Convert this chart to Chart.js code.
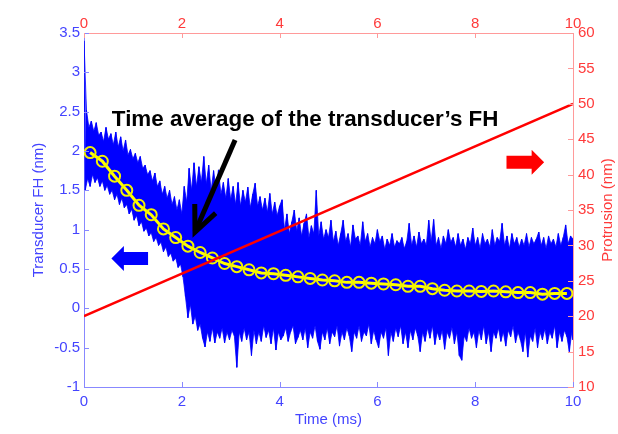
<!DOCTYPE html>
<html><head><meta charset="utf-8">
<script src="https://cdn.jsdelivr.net/npm/chart.js@4.4.1/dist/chart.umd.min.js"></script>
<style>html,body{margin:0;padding:0;background:#fff}</style>
</head><body>
<canvas id="c" width="618" height="434"></canvas>
<script>
// ---------- data ----------
// blue transducer FH signal: peak (upper) and trough (lower) values every 0.05 ms, 0..10 ms
const sampleStep = 0.05;
const fhUpper = [
 3.4, 2.52, 2.3, 2.38, 2.25, 2.36, 2.2, 2.24, 2.12, 2.3,
 2.15, 2.22, 2.08, 2.24, 2.05, 2.18, 2.0, 2.14, 1.95, 2.02,
 1.9, 1.97, 1.85, 1.93, 1.78, 1.82, 1.7, 1.75, 1.62, 1.72,
 1.55, 1.62, 1.45, 1.55, 1.4, 1.5, 1.32, 1.42, 1.25, 1.38,
 1.2,
 1.55, 1.35, 1.78, 1.5, 1.85, 1.55, 1.8, 1.6, 1.93,
 1.58, 1.82, 1.5, 1.75, 1.52, 1.76, 1.45, 1.6, 1.4, 1.65,
 1.38, 1.55, 1.32, 1.6, 1.3, 1.5, 1.35, 1.54, 1.28, 1.45,
 1.59, 1.3, 1.42, 1.25, 1.4, 1.22, 1.46, 1.2, 1.35, 1.18,
 1.3,
 1.38, 1.0, 1.2, 0.95, 1.1, 1.25, 0.98, 1.15, 0.92,
 1.08, 1.2, 0.9, 1.05, 0.95, 1.5, 0.92, 1.1, 0.88, 1.0,
 0.9, 1.12, 0.85, 0.98, 0.8, 0.95, 1.12, 0.85, 0.95, 0.78,
 1.06, 0.88, 0.92, 0.8, 1.1, 0.85, 0.95, 0.78, 0.9, 0.82,
 1.0, 0.85, 0.92, 0.75, 0.88, 0.8, 0.95, 0.78, 0.86, 0.82,
 0.9, 0.76, 0.85, 1.08, 0.8, 0.92, 0.78, 0.97, 0.82, 0.88,
 0.8, 1.12, 0.85, 1.13, 0.8, 0.9, 0.76, 0.92, 0.82, 1.0,
 0.84, 0.9, 0.78, 0.95, 0.8, 0.88, 0.75, 0.9, 0.82, 1.02,
 0.8, 0.9, 0.76, 0.95, 0.82, 0.88, 0.78, 1.0, 0.8, 0.9,
 0.85, 1.08, 0.8, 0.92, 0.76, 0.95, 0.82, 0.9, 0.78, 0.88,
 0.8, 0.95, 0.78, 0.9, 0.82, 0.88, 0.97, 0.8, 0.9, 0.76,
 0.92, 0.82, 0.88, 0.78, 0.95, 0.8, 0.9, 1.06, 0.82, 0.92,
 0.88
];
const fhLower = [
 1.5, 1.65, 1.55, 1.7, 1.6, 1.66, 1.55, 1.62, 1.5, 1.56,
 1.45, 1.5, 1.38, 1.45, 1.32, 1.4, 1.28, 1.32, 1.2, 1.26,
 1.12, 1.18, 1.05, 1.1, 0.98, 1.02, 0.92, 0.96, 0.85, 0.9,
 0.8, 0.84, 0.72, 0.78, 0.66, 0.7, 0.6, 0.64, 0.52, 0.56,
 0.4,
 0.15, -0.12, 0.05, -0.2, -0.1, -0.28, -0.2, -0.38, -0.49,
 -0.3, -0.42, -0.25, -0.44, -0.3, -0.38, -0.25, -0.44, -0.3, -0.4,
 -0.28, -0.35, -0.75, -0.3, -0.42, -0.25, -0.4, -0.3, -0.6, -0.28,
 -0.45, -0.3, -0.42, -0.22, -0.37, -0.28, -0.45, -0.25, -0.53, -0.3,
 -0.4,
 -0.35, -0.25, -0.42, -0.3, -0.22, -0.45, -0.37, -0.28, -0.4,
 -0.25, -0.5, -0.3, -0.38, -0.22, -0.42, -0.52, -0.3, -0.4, -0.25,
 -0.45, -0.3, -0.36, -0.22, -0.48, -0.3, -0.4, -0.25, -0.35, -0.55,
 -0.3, -0.38, -0.22, -0.42, -0.3, -0.35, -0.2, -0.45, -0.28, -0.4,
 -0.5, -0.3, -0.38, -0.25, -0.6, -0.3, -0.42, -0.25, -0.36, -0.22,
 -0.45, -0.3, -0.5, -0.28, -0.4, -0.25, -0.35, -0.55, -0.3, -0.42,
 -0.25, -0.38, -0.22, -0.46, -0.3, -0.4, -0.28, -0.52, -0.3, -0.38,
 -0.24, -0.45, -0.3, -0.6, -0.66, -0.35, -0.42, -0.25, -0.38, -0.3,
 -0.5, -0.28, -0.4, -0.22, -0.45, -0.3, -0.55, -0.3, -0.38, -0.25,
 -0.42, -0.3, -0.48, -0.28, -0.36, -0.22, -0.44, -0.3, -0.4, -0.55,
 -0.3, -0.62, -0.35, -0.42, -0.25, -0.5, -0.3, -0.4, -0.26, -0.45,
 -0.3, -0.38, -0.22, -0.5, -0.3, -0.42, -0.28, -0.36, -0.55, -0.3,
 -0.4
];
// yellow time average, one circle every 0.25 ms starting at 0.125 ms
const avgStart = 0.125, avgStep = 0.25;
const fhAverage = [
 1.98, 1.87, 1.68, 1.50, 1.31, 1.19, 1.01, 0.90, 0.79, 0.71,
 0.64, 0.57, 0.53, 0.49, 0.45, 0.44, 0.42, 0.40, 0.38, 0.36,
 0.35, 0.33, 0.33, 0.32, 0.31, 0.30, 0.28, 0.28, 0.25, 0.23,
 0.22, 0.22, 0.215, 0.22, 0.21, 0.20, 0.20, 0.18, 0.19, 0.19
];
// red protrusion (right axis)
const protrusionTime = [0, 10];
const protrusion = [20, 50];
// axis ranges / ticks
const timeRange = [0, 10], timeTickStep = 2;
const fhRange = [-1, 3.5], fhTickStep = 0.5;
const protRange = [10, 60], protTickStep = 5;
const xTitle = 'Time (ms)', yTitle = 'Transducer FH (nm)', y2Title = 'Protrusion (nm)';
const noteText = 'Time average of the transducer\u2019s FH';

// ---------- build tables ----------
const upperPts = [], lowerPts = [], signal = [];
fhUpper.forEach((u, i) => {
  const t = +(i * sampleStep).toFixed(3);
  const tl = Math.min(10, t + sampleStep / 2);
  upperPts.push({x: t, y: u});
  lowerPts.push({x: tl, y: fhLower[i]});
  signal.push({x: t, y: u});
  signal.push({x: tl, y: fhLower[i]});
});
const avgData = fhAverage.map((v, k) => ({x: avgStart + k * avgStep, y: v}));
const protData = protrusion.map((v, k) => ({x: protrusionTime[k], y: v}));

const FONT = 'Liberation Sans, Arial, sans-serif';
const blueText = '#4444ff', blueAxis = '#8888ff';
const redText = '#ff3a3a', redAxis = '#ff9a9a';
const fmt = v => String(Math.round(v * 100) / 100);

const deco = {
  id: 'deco',
  afterDraw(chart) {
    const {ctx, chartArea: a, scales: {x, x2, y, y2}} = chart;
    ctx.save();
    ctx.lineWidth = 1;
    // inward ticks
    ctx.strokeStyle = blueAxis;
    y.ticks.forEach(t => { const p = Math.round(y.getPixelForValue(t.value)) + 0.5;
      ctx.beginPath(); ctx.moveTo(a.left, p); ctx.lineTo(a.left + 5, p); ctx.stroke(); });
    x.ticks.forEach(t => { const p = Math.round(x.getPixelForValue(t.value)) + 0.5;
      ctx.beginPath(); ctx.moveTo(p, a.bottom); ctx.lineTo(p, a.bottom - 5); ctx.stroke(); });
    ctx.strokeStyle = redAxis;
    y2.ticks.forEach(t => { const p = Math.round(y2.getPixelForValue(t.value)) + 0.5;
      ctx.beginPath(); ctx.moveTo(a.right, p); ctx.lineTo(a.right - 5, p); ctx.stroke(); });
    x2.ticks.forEach(t => { const p = Math.round(x2.getPixelForValue(t.value)) + 0.5;
      ctx.beginPath(); ctx.moveTo(p, a.top); ctx.lineTo(p, a.top + 5); ctx.stroke(); });
    // right title, reading bottom to top
    ctx.save();
    ctx.translate(608, (a.top + a.bottom) / 2);
    ctx.rotate(-Math.PI / 2);
    ctx.fillStyle = redText; ctx.font = '15px ' + FONT;
    ctx.textAlign = 'center'; ctx.textBaseline = 'middle';
    ctx.fillText(y2Title, 0, 0);
    ctx.restore();
    // annotation text
    ctx.fillStyle = '#000'; ctx.font = 'bold 22.4px ' + FONT;
    ctx.textAlign = 'left'; ctx.textBaseline = 'alphabetic';
    ctx.fillText(noteText, x.getPixelForValue(0.57), y.getPixelForValue(2.32));
    // black arrow
    const x0 = x.getPixelForValue(3.09), y0 = y.getPixelForValue(2.14);
    const x1 = x.getPixelForValue(2.27), y1 = y.getPixelForValue(0.97);
    const ang = Math.atan2(y0 - y1, x0 - x1);
    ctx.strokeStyle = '#000'; ctx.lineWidth = 5; ctx.lineCap = 'butt'; ctx.lineJoin = 'miter';
    ctx.beginPath(); ctx.moveTo(x0, y0); ctx.lineTo(x1, y1); ctx.stroke();
    ctx.beginPath();
    ctx.moveTo(x1 + 28 * Math.cos(ang - 0.42), y1 + 28 * Math.sin(ang - 0.42));
    ctx.lineTo(x1, y1);
    ctx.lineTo(x1 + 28 * Math.cos(ang + 0.42), y1 + 28 * Math.sin(ang + 0.42));
    ctx.stroke();
    // block arrows
    function block(tipX, tailX, cy, color) {
      const tx = x.getPixelForValue(tipX), bx = x.getPixelForValue(tailX), py = y.getPixelForValue(cy);
      const dir = Math.sign(bx - tx), hx = tx + dir * 12.5;
      ctx.fillStyle = color; ctx.beginPath();
      ctx.moveTo(tx, py); ctx.lineTo(hx, py - 12.5); ctx.lineTo(hx, py - 6.5);
      ctx.lineTo(bx, py - 6.5); ctx.lineTo(bx, py + 6.5); ctx.lineTo(hx, py + 6.5);
      ctx.lineTo(hx, py + 12.5); ctx.closePath(); ctx.fill();
    }
    block(0.56, 1.31, 0.633, '#0000ff');
    block(9.41, 8.64, 1.856, '#ff0000');
    ctx.restore();
  }
};

const tickFont = {family: FONT, size: 15};
new Chart(document.getElementById('c'), {
  type: 'line',
  data: {datasets: [
    {label: 'protrusion', data: protData, xAxisID: 'x', yAxisID: 'y2', borderColor: '#ff0000',
     borderWidth: 2.5, pointRadius: 0, fill: false, order: 0},
    {label: 'average', data: avgData, xAxisID: 'x', yAxisID: 'y', borderColor: '#ffff00',
     borderWidth: 3, pointRadius: 5.5, pointBorderWidth: 2, pointBorderColor: '#f2f200',
     pointBackgroundColor: 'rgba(0,0,0,0)', fill: false, order: 1},
    {label: 'FH', data: signal, xAxisID: 'x', yAxisID: 'y', borderColor: '#0000ff',
     borderWidth: 1, pointRadius: 0, fill: false, order: 2},
    {label: 'FH peaks', data: upperPts, xAxisID: 'x', yAxisID: 'y', borderColor: '#0000ff',
     borderWidth: 0.8, pointRadius: 0, fill: false, order: 4},
    {label: 'FH troughs', data: lowerPts, xAxisID: 'x', yAxisID: 'y', borderColor: '#0000ff',
     borderWidth: 0.8, pointRadius: 0, fill: '-1', backgroundColor: '#0000ff', order: 3}
  ]},
  options: {
    responsive: false, animation: false, devicePixelRatio: 1,
    layout: {padding: 0},
    plugins: {legend: {display: false}, tooltip: {enabled: false}},
    elements: {line: {tension: 0}},
    scales: {
      x: {type: 'linear', position: 'bottom', min: timeRange[0], max: timeRange[1],
        ticks: {stepSize: timeTickStep, color: blueText, font: tickFont, padding: 6, maxRotation: 0, autoSkip: false, callback: fmt},
        grid: {display: false, drawTicks: false}, border: {display: true, color: blueAxis, width: 1},
        title: {display: true, text: xTitle, color: blueText, font: tickFont, padding: {top: 0, bottom: 5}},
        afterFit(s) { s.height = 47; }},
      x2: {type: 'linear', position: 'top', min: timeRange[0], max: timeRange[1],
        ticks: {stepSize: timeTickStep, color: redText, font: tickFont, padding: 0, maxRotation: 0, autoSkip: false, callback: fmt},
        grid: {display: false, drawTicks: false}, border: {display: true, color: redAxis, width: 1},
        afterFit(s) { s.height = 33; }},
      y: {type: 'linear', position: 'left', min: fhRange[0], max: fhRange[1],
        ticks: {stepSize: fhTickStep, color: blueText, font: tickFont, padding: 4, autoSkip: false, callback: fmt},
        grid: {display: false, drawTicks: false}, border: {display: true, color: blueAxis, width: 1},
        title: {display: true, text: yTitle, color: blueText, font: tickFont, padding: {top: 30, bottom: 0}},
        afterFit(s) { s.width = 84; }},
      y2: {type: 'linear', position: 'right', min: protRange[0], max: protRange[1],
        ticks: {stepSize: protTickStep, color: redText, font: tickFont, padding: 5, autoSkip: false, callback: fmt},
        grid: {display: false, drawTicks: false}, border: {display: true, color: redAxis, width: 1},
        afterFit(s) { s.width = 45; }}
    }
  },
  plugins: [deco]
});
</script>
</body></html>
